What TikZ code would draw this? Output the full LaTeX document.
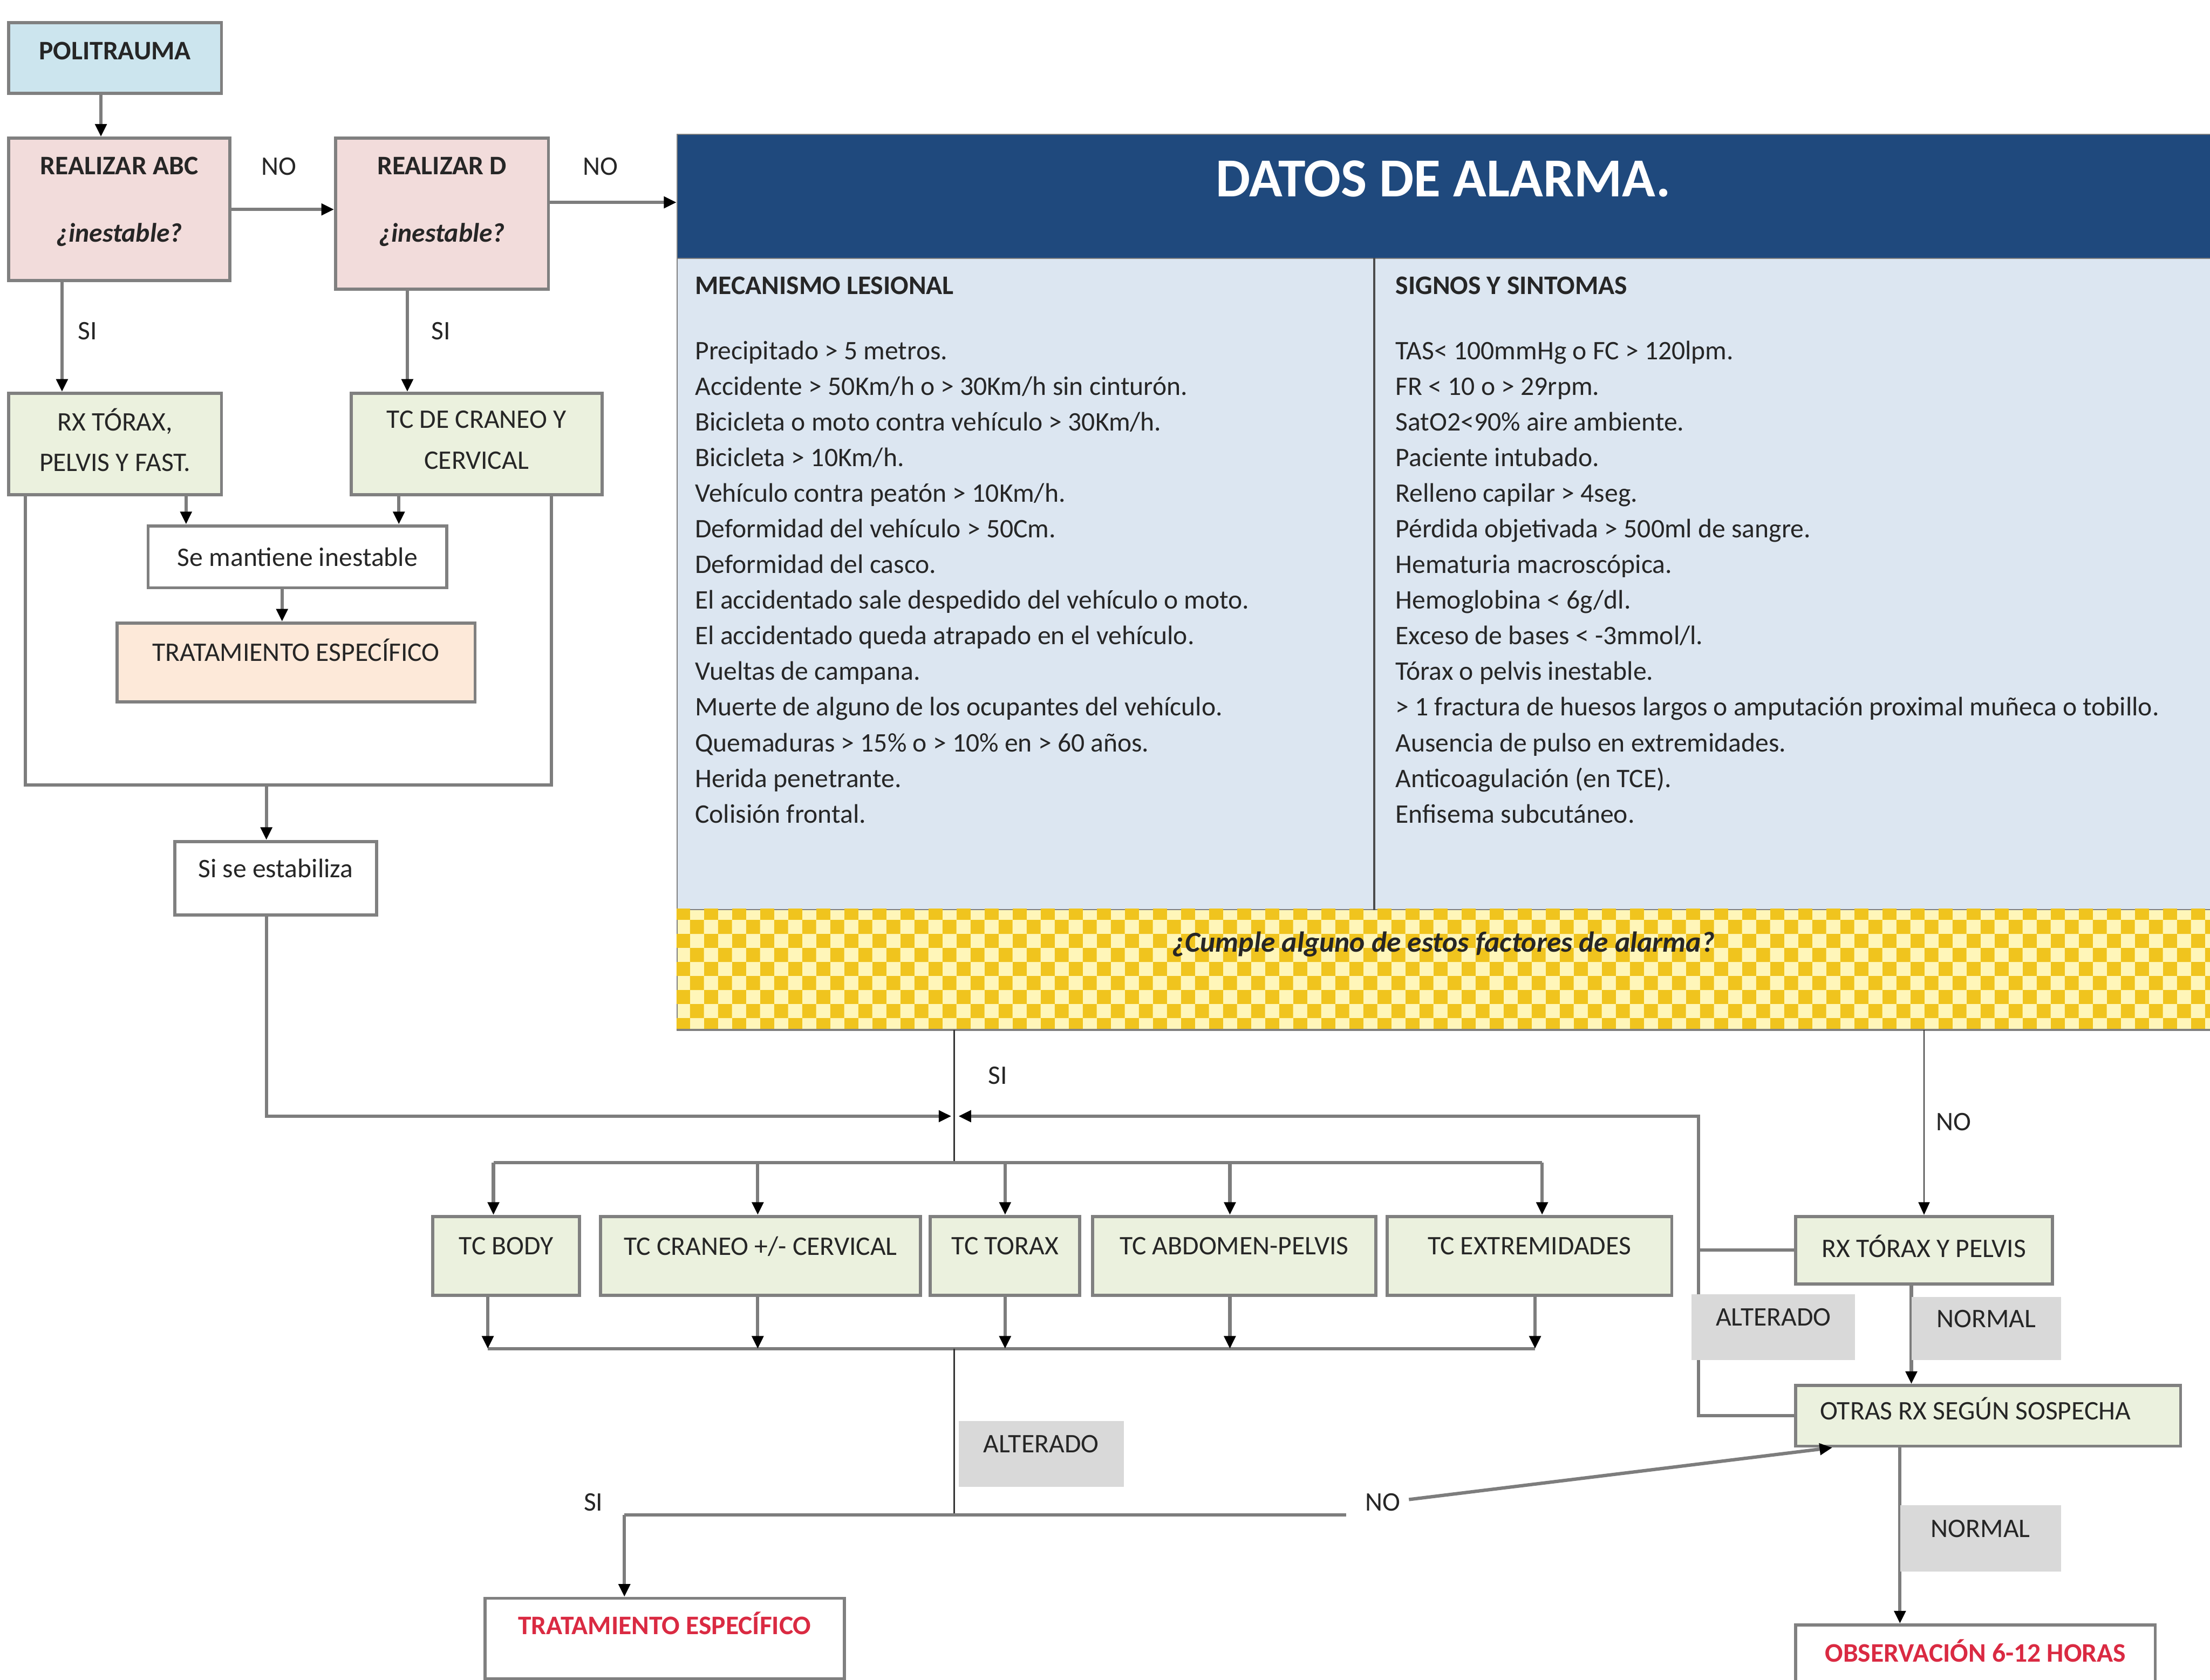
\documentclass[tikz,border=0pt]{standalone}
\usepackage{fontspec}
\setmainfont{Carlito}
\usetikzlibrary{arrows.meta,patterns,calc}

\pgfdeclarepatternformonly{bigcheck}{\pgfpointorigin}{\pgfqpoint{20pt}{20pt}}{\pgfqpoint{20pt}{20pt}}{%
 \pgfpathrectangle{\pgfpointorigin}{\pgfqpoint{10pt}{10pt}}%
 \pgfpathrectangle{\pgfqpoint{10pt}{10pt}}{\pgfqpoint{10pt}{10pt}}%
 \pgfusepath{fill}}

\definecolor{polib}{RGB}{204,229,238}
\definecolor{pinkb}{RGB}{242,220,219}
\definecolor{greenb}{RGB}{235,241,222}
\definecolor{peachb}{RGB}{253,233,217}
\definecolor{navy}{RGB}{31,73,125}
\definecolor{paleblue}{RGB}{220,230,241}
\definecolor{boxline}{RGB}{128,128,128}
\definecolor{conline}{RGB}{125,125,125}
\definecolor{txt}{RGB}{38,38,38}
\definecolor{redtxt}{RGB}{218,42,66}
\definecolor{lblgray}{RGB}{217,217,217}
\definecolor{chkyel}{RGB}{240,196,30}
\definecolor{chklight}{RGB}{255,246,185}

\tikzset{
 x=1pt, y=-1pt,
 every node/.style={font=\fontsize{19}{23}\selectfont, text=txt},
 box/.style={draw=boxline, line width=2.2pt, anchor=north west, inner sep=2pt, align=center},
 conn/.style={draw=conline, line width=2.4pt},
 arr/.style={conn, -{Triangle[length=9pt,width=8pt,color=black]}},
 thinline/.style={draw=black!80, line width=1pt},
 thinarr/.style={thinline, -{Triangle[length=9pt,width=8pt,color=black]}},
 lbl/.style={fill=lblgray, inner sep=0pt, anchor=north west, text depth=14pt},
 plain/.style={inner sep=0pt},
 coltext/.style={anchor=north west, align=left, inner sep=0pt, font=\fontsize{19}{25.3}\selectfont},
}

\begin{document}
\begin{tikzpicture}
\useasboundingbox (0,0) rectangle (1568,1192);
\fill[white] (0,0) rectangle (1568,1192);

% ---------- left flow ----------
\node[box, fill=polib, minimum width=151pt, minimum height=50pt, text depth=10pt] (poli) at (5,15) {\textbf{POLITRAUMA}};
\node[box, fill=pinkb, minimum width=157pt, minimum height=101pt, text depth=14pt] (abc) at (5,97) {\textbf{REALIZAR ABC}\\[25pt]\textbf{\textit{¿inestable?}}};
\node[box, fill=pinkb, minimum width=151pt, minimum height=107pt, text depth=20pt] (d) at (237,97) {\textbf{REALIZAR D}\\[25pt]\textbf{\textit{¿inestable?}}};
\node[plain] (no1) at (198,118) {NO};
\node[plain] (no2) at (426,118) {NO};
\node[plain] (si1) at (62,235) {SI};
\node[plain] (si2) at (313,235) {SI};
\node[box, fill=greenb, minimum width=151pt, minimum height=72pt, text depth=6pt] (rx) at (5,278) {RX TÓRAX,\\[6pt]PELVIS Y FAST.};
\node[box, fill=greenb, minimum width=178pt, minimum height=72pt, text depth=6pt] (tc) at (248,278) {TC DE CRANEO Y\\[6pt]CERVICAL};
\node[box, fill=white, minimum width=212pt, minimum height=44pt] (mant) at (104,372) {Se mantiene inestable};
\node[box, fill=peachb, minimum width=254pt, minimum height=56pt, text depth=18pt] (trat1) at (82,441) {TRATAMIENTO ESPECÍFICO};
\node[box, fill=white, minimum width=143pt, minimum height=52pt, text depth=14pt] (estab) at (123,596) {Si se estabiliza};

% ---------- datos de alarma ----------
\node[draw=boxline, line width=0.8pt, fill=navy, anchor=north west, minimum width=1088pt, minimum height=88pt, inner sep=0pt] (head) at (480,95) {};
\node[plain, text=white, font=\fontsize{39}{44}\selectfont\bfseries] (title) at (1024,127) {DATOS DE ALARMA.};
\node[draw=boxline, line width=0.8pt, fill=paleblue, anchor=north west, minimum width=1088pt, minimum height=462pt, inner sep=0pt] (body) at (480,183) {};
\node[draw=boxline, line width=0.8pt, fill=chklight, anchor=north west, minimum width=1088pt, minimum height=85pt, inner sep=0pt] (check) at (480,645) {};
\fill[pattern=bigcheck, pattern color=chkyel] (check.north west) rectangle (check.south east);
\draw[boxline, line width=1.2pt] (check.south west) -- (check.south east);
\draw[black!70, line width=1.6pt] ([xshift=495pt]body.north west) -- ([xshift=495pt]body.south west);
\node[plain, font=\fontsize{20.5}{24}\selectfont\bfseries\itshape] (cumple) at (1024,670) {¿Cumple alguno de estos factores de alarma?};

\node[coltext] (mec) at (493,196) {\textbf{MECANISMO LESIONAL}\\[21pt]
Precipitado > 5 metros.\\
Accidente > 50Km/h o > 30Km/h sin cinturón.\\
Bicicleta o moto contra vehículo > 30Km/h.\\
Bicicleta > 10Km/h.\\
Vehículo contra peatón > 10Km/h.\\
Deformidad del vehículo > 50Cm.\\
Deformidad del casco.\\
El accidentado sale despedido del vehículo o moto.\\
El accidentado queda atrapado en el vehículo.\\
Vueltas de campana.\\
Muerte de alguno de los ocupantes del vehículo.\\
Quemaduras > 15\% o > 10\% en > 60 años.\\
Herida penetrante.\\
Colisión frontal.};

\node[coltext] (sig) at (990,196) {\textbf{SIGNOS Y SINTOMAS}\\[21pt]
TAS< 100mmHg o FC > 120lpm.\\
FR < 10 o > 29rpm.\\
SatO2<90\% aire ambiente.\\
Paciente intubado.\\
Relleno capilar > 4seg.\\
Pérdida objetivada > 500ml de sangre.\\
Hematuria macroscópica.\\
Hemoglobina < 6g/dl.\\
Exceso de bases < -3mmol/l.\\
Tórax o pelvis inestable.\\
> 1 fractura de huesos largos o amputación proximal muñeca o tobillo.\\
Ausencia de pulso en extremidades.\\
Anticoagulación (en TCE).\\
Enfisema subcutáneo.};

% ---------- lower part ----------
\node[plain] (si3) at (708,763) {SI};
\node[plain] (no3) at (1386,796) {NO};
\node[box, fill=greenb, minimum width=104pt, minimum height=56pt, text depth=14pt] (tcbody) at (306,862) {TC BODY};
\node[box, fill=greenb, minimum width=227pt, minimum height=56pt, text depth=14pt] (tccran) at (425,862) {TC CRANEO +/- CERVICAL};
\node[box, fill=greenb, minimum width=106pt, minimum height=56pt, text depth=14pt] (tctor) at (659,862) {TC TORAX};
\node[box, fill=greenb, minimum width=201pt, minimum height=56pt, text depth=14pt] (tcabd) at (774,862) {TC ABDOMEN-PELVIS};
\node[box, fill=greenb, minimum width=202pt, minimum height=56pt, text depth=14pt] (tcext) at (983,862) {TC EXTREMIDADES};
\node[box, fill=greenb, minimum width=182pt, minimum height=48pt, text depth=6pt] (rxtp) at (1273,862) {RX TÓRAX Y PELVIS};
\node[box, fill=greenb, minimum width=273pt, minimum height=43pt, text depth=10pt] (otras) at (1273,982) {OTRAS RX SEGÚN SOSPECHA\hspace*{18pt}};
\node[box, fill=white, minimum width=255pt, minimum height=46pt, text depth=10pt, text=redtxt, font=\fontsize{19}{23}\selectfont\bfseries] (obs) at (1273,1152) {OBSERVACIÓN 6-12 HORAS};
\node[box, fill=white, minimum width=255pt, minimum height=57pt, text depth=22pt, text=redtxt, font=\fontsize{19}{23}\selectfont\bfseries] (trat2) at (343,1133) {TRATAMIENTO ESPECÍFICO};
\node[plain] (si4) at (421,1066) {SI};
\node[plain] (no4) at (981,1066) {NO};

\coordinate (ujoin) at (189,557);
\coordinate (meet) at (677,792);
\coordinate (dist) at (677,825);
\coordinate (low) at (677,957);
\coordinate (split) at (677,1075);
\coordinate (barL) at (443,1075);
\coordinate (barR) at (955,1075);
\coordinate (altc) at (1205,792);

% ---------- connectors ----------
\draw[arr] ([xshift=-10pt]poli.south) -- ([xshift=-10pt]poli.south |- abc.north);
\draw[arr] (abc.east) -- (abc.east -| d.west);
\draw[arr] ([yshift=8pt]d.east) -- ([yshift=8pt]d.east -| head.west);
\draw[arr] ([xshift=39pt]abc.south west) -- ([xshift=39pt]abc.south west |- rx.north);
\draw[arr] ([xshift=52pt]d.south west) -- ([xshift=52pt]d.south west |- tc.north);
\draw[arr] ([xshift=127pt]rx.south west) -- ([xshift=127pt]rx.south west |- mant.north);
\draw[arr] ([xshift=35pt]tc.south west) -- ([xshift=35pt]tc.south west |- mant.north);
\draw[arr] ([xshift=-11pt]mant.south) -- ([xshift=-11pt]mant.south |- trat1.north);
\draw[conn] ([xshift=13pt]rx.south west) |- (ujoin) -| ([xshift=-37pt]tc.south east);
\draw[arr] (ujoin) -- (ujoin |- estab.north);
\draw[arr] (ujoin |- estab.south) |- ([xshift=-2pt]meet);

\draw[thinline] ([xshift=197pt]check.south west) -- (dist);
\draw[conn] ([xshift=-9pt]tcbody.north |- dist) -- ([xshift=9pt]tcext.north |- dist);
\draw[arr] ([xshift=-9pt]tcbody.north |- dist) -- ([xshift=-9pt]tcbody.north);
\draw[arr] ([xshift=-2pt]tccran.north |- dist) -- ([xshift=-2pt]tccran.north);
\draw[arr] (tctor.north |- dist) -- (tctor.north);
\draw[arr] ([xshift=-3pt]tcabd.north |- dist) -- ([xshift=-3pt]tcabd.north);
\draw[arr] ([xshift=9pt]tcext.north |- dist) -- ([xshift=9pt]tcext.north);

\draw[conn] ([xshift=-13pt]tcbody.south |- low) -- ([xshift=4pt]tcext.south |- low);
\draw[arr] ([xshift=-13pt]tcbody.south) -- ([xshift=-13pt]tcbody.south |- low);
\draw[arr] ([xshift=-2pt]tccran.south) -- ([xshift=-2pt]tccran.south |- low);
\draw[arr] (tctor.south) -- (tctor.south |- low);
\draw[arr] ([xshift=-3pt]tcabd.south) -- ([xshift=-3pt]tcabd.south |- low);
\draw[arr] ([xshift=4pt]tcext.south) -- ([xshift=4pt]tcext.south |- low);

\draw[thinline] (low) -- (split);
\draw[conn] (barL) -- (barR);
\draw[arr] (barL) -- (barL |- trat2.north);
\draw[arr] ([xshift=6pt,yshift=2pt]no4.east) -- ([xshift=27pt]otras.south west);

\draw[thinarr] (rxtp.north |- check.south) -- (rxtp.north);
\draw[arr] ([xshift=-9pt]rxtp.south) -- ([xshift=-9pt]rxtp.south |- otras.north);
\draw[arr] ([xshift=75pt]otras.south west) -- ([xshift=75pt]otras.south west |- obs.north);
\draw[arr] (otras.west) -| (altc) -- ([xshift=3pt]meet);
\draw[conn] (rxtp.west) -- (rxtp.west -| altc);

% ---------- grey labels ----------
\node[lbl, minimum width=117pt, minimum height=47pt] (alt1) at (680,1008) {ALTERADO};
\node[lbl, minimum width=116pt, minimum height=47pt] (alt2) at (1200,918) {ALTERADO};
\node[lbl, minimum width=106pt, minimum height=45pt] (norm1) at (1356,920) {NORMAL};
\node[lbl, minimum width=114pt, minimum height=47pt] (norm2) at (1348,1068) {NORMAL};
\end{tikzpicture}
\end{document}
